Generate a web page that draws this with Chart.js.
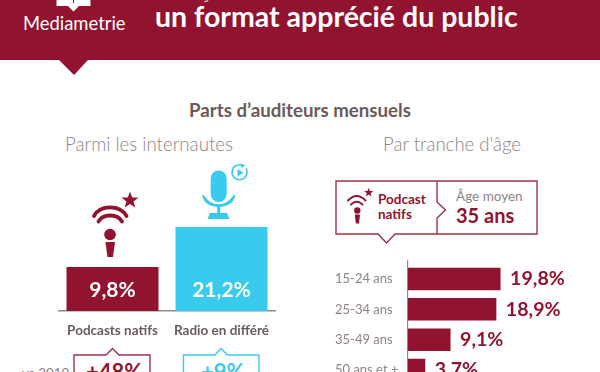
<!DOCTYPE html>
<html lang="fr">
<head>
<meta charset="utf-8">
<title>Parts d'auditeurs mensuels</title>
<script src="https://cdn.jsdelivr.net/npm/chart.js@4/dist/chart.umd.min.js"></script>
<style>
    html, body { margin: 0; padding: 0; background: #fff; }
    body { position: relative; width: 600px; height: 372px; overflow: hidden; font-family: Lato, "Open Sans", sans-serif; }
    #header { position: absolute; left: 0; top: 0; width: 600px; height: 60px; background: #91132f; }
    #art { position: absolute; left: 0; top: 0; }
    canvas { position: absolute; }
    .t { position: absolute; white-space: nowrap; line-height: 1; }
    .b { font-weight: 700; }
</style>
</head>
<body>
<div id="header"></div>
<svg id="art" width="600" height="372" viewBox="0 0 600 372">
    <polygon points="59,60 88,60 74,75" fill="#91132f"/>
    <!-- logo, cut off by the top of the picture -->
    <path d="M56.5 0H90.5V6H79L73.5 11.5L68 6H56.5Z" fill="#fff"/>
    <path d="M73.5 0V3" stroke="#91132f" stroke-width="1"/>
    <!-- descender of the title line above, nearly all outside the picture -->
    <path d="M204.5 1.5Q207 1.8 208 0" fill="none" stroke="#fff" stroke-width="1.4" opacity="0.7"/>

    <!-- podcast icon -->
    <g fill="none" stroke="#91132f" stroke-linecap="round">
        <path d="M94 216C100 204.5 120 204.5 126.5 216" stroke-width="3.8"/>
        <path d="M98.5 221.5C103 213.5 117.5 213.5 122 221.5" stroke-width="3.8"/>
    </g>
    <circle cx="110" cy="234.5" r="5.8" fill="#91132f"/>
    <polygon points="105.5,242 115,242 113,257 107.5,257" fill="#91132f"/>
    <polygon id="star" fill="#91132f" points="130,191.5 132.2,197.4 138.5,197.6 133.5,201.5 135.3,207.6 130,204.1 124.7,207.6 126.5,201.5 121.5,197.6 127.8,197.4"/>

    <!-- mic icon -->
    <rect x="210.7" y="170.5" width="16" height="31.5" rx="8" fill="#38cbee"/>
    <path d="M203 195.5C205 210 232 210 234.5 195.5C230 201 226 205 218.7 205C211 205 207 201 203 195.5Z" fill="#38cbee" stroke="#38cbee" stroke-width="1.5" stroke-linejoin="round"/>
    <rect x="217.2" y="206" width="3" height="8" fill="#38cbee"/>
    <polygon points="210,213 227,213 229.5,219 207.5,219" fill="#38cbee"/>
    <path d="M243 165.6A7.5 7.5 0 1 0 246 168.5" fill="none" stroke="#38cbee" stroke-width="1.5"/>
    <polygon points="240.5,163.5 245.5,165.5 241.5,168" fill="#38cbee"/>
    <polygon points="237.5,169 237.5,176.5 243.5,172.7" fill="#38cbee"/>

    <!-- age callout -->
    <path d="M336 181H537V234H395L386.5 243L378 234H336Z" fill="#fff" stroke="#a0304a" stroke-width="1.4"/>
    <path d="M437 181V202L445.5 210L437 218V234" fill="none" stroke="#a0304a" stroke-width="1.4"/>
    <g fill="none" stroke="#91132f" stroke-linecap="round" stroke-width="1.9">
        <path d="M348 200.5Q356.7 191.5 365.5 200.5"/>
        <path d="M351 204.5Q356.7 199 362.5 204.5"/>
    </g>
    <circle cx="357.3" cy="210.5" r="3.2" fill="#91132f"/>
    <polygon points="354.8,214.5 360,214.5 359,223.5 355.8,223.5" fill="#91132f"/>
    <polygon fill="#91132f" points="368.7,187.8 369.9,191 373.2,191.1 370.6,193.2 371.5,196.4 368.7,194.6 365.9,196.4 366.8,193.2 364.2,191.1 367.5,191"/>

    <!-- evolution boxes, cut off by the bottom of the picture -->
    <path d="M74 380V355H106L112.5 348.5L119 355H150V380" fill="none" stroke="#a0304a" stroke-width="1.4"/>
    <path d="M183.5 380V355H215L221 348.5L227.5 355H259V380" fill="none" stroke="#38cbee" stroke-width="1.4"/>

    <!-- axis of the age bars -->
    <line x1="407.6" y1="260" x2="407.6" y2="372" stroke="#8f8a8a" stroke-width="1.2"/>
</svg>

<div class="t" style="left:23px;top:14px;font-size:18.4px;color:#fff;">Mediametrie</div>
<div class="t b" style="left:155px;top:2px;font-size:28.5px;color:#fff;">un format apprécié du public</div>
<div class="t b" style="left:189px;top:101px;font-size:18.7px;color:#6b5a5c;">Parts d’auditeurs mensuels</div>
<div class="t" style="left:65px;top:135px;font-size:18.7px;font-weight:300;color:#8e8486;">Parmi les internautes</div>
<div class="t" style="left:383px;top:135px;font-size:18.6px;font-weight:300;color:#8e8486;">Par tranche d'âge</div>
<div class="t b" style="left:378px;top:193px;font-size:13.5px;color:#91132f;">Podcast</div>
<div class="t b" style="left:378px;top:208px;font-size:13.5px;color:#91132f;">natifs</div>
<div class="t" style="left:456px;top:190px;font-size:13.5px;color:#8e8486;">Âge moyen</div>
<div class="t b" style="left:456px;top:205px;font-size:20px;color:#91132f;">35 ans</div>
<div class="t" style="left:22px;top:367px;font-size:13.5px;color:#8e8486;">vs 2019</div>
<div class="t b" style="left:86px;top:361px;font-size:22px;color:#91132f;">+48%</div>
<div class="t b" style="left:201px;top:361px;font-size:22px;color:#38cbee;">+9%</div>

<canvas id="typeChart" width="218" height="150" style="left:57.5px;top:196px;"></canvas>
<canvas id="ageChart" width="260" height="137" style="left:335px;top:256px;"></canvas>

<script>
const typeLabels = ['Podcasts natifs', 'Radio en différé'];
const typeValues = [9.8, 21.2];
const typeColors = ['#91132f', '#38cbee'];

const ageLabels = ['15-24 ans', '25-34 ans', '35-49 ans', '50 ans et +'];
const ageValues = [19.8, 18.9, 9.1, 3.7];

const CRIMSON = '#91132f';
const FONT = 'Lato, "Open Sans", sans-serif';

function pct(value) {
    return value.toFixed(1).replace('.', ',') + '%';
}

// no datalabels plugin here, so the values are written after the bars
const typeValueLabels = {
    id: 'typeValueLabels',
    afterDatasetsDraw(chart) {
        const ctx = chart.ctx;
        ctx.save();
        ctx.font = '700 21px ' + FONT;
        ctx.fillStyle = '#fff';
        ctx.textAlign = 'center';
        ctx.textBaseline = 'middle';
        chart.getDatasetMeta(0).data.forEach((bar, i) => {
            ctx.fillText(pct(typeValues[i]), bar.x, chart.chartArea.bottom - 21);
        });
        ctx.restore();
    }
};

const ageValueLabels = {
    id: 'ageValueLabels',
    afterDatasetsDraw(chart) {
        const ctx = chart.ctx;
        ctx.save();
        ctx.font = '700 19.6px ' + FONT;
        ctx.fillStyle = CRIMSON;
        ctx.textAlign = 'left';
        ctx.textBaseline = 'middle';
        chart.getDatasetMeta(0).data.forEach((bar, i) => {
            ctx.fillText(pct(ageValues[i]), bar.x + 9.5, bar.y);
        });
        ctx.restore();
    }
};

// the two bars of the original are not drawn from zero, hence the base below it
const typeBase = -2.74;

new Chart(document.getElementById('typeChart'), {
    type: 'bar',
    data: {
        labels: typeLabels,
        datasets: [{
            data: typeValues,
            backgroundColor: typeColors,
            base: typeBase,
            barPercentage: 0.844,
            categoryPercentage: 1
        }]
    },
    options: {
        responsive: false,
        animation: false,
        layout: { padding: 0 },
        plugins: { legend: { display: false }, tooltip: { enabled: false } },
        scales: {
            x: {
                // tick padding would also squeeze the chart sideways, so the gap comes from the tick length
                grid: { display: false, drawTicks: true, tickLength: 12, tickColor: 'rgba(0,0,0,0)' },
                border: { color: '#8f8a8a', width: 1.4 },
                afterFit: scale => { scale.height = 35; },
                ticks: {
                    padding: 0,
                    maxRotation: 0,
                    color: '#6b5a5c',
                    font: { family: FONT, size: 13.5, weight: '700' }
                }
            },
            y: { display: false, min: typeBase, max: 30 }
        }
    },
    plugins: [typeValueLabels]
});

new Chart(document.getElementById('ageChart'), {
    type: 'bar',
    data: {
        labels: ageLabels,
        datasets: [{
            data: ageValues,
            backgroundColor: CRIMSON,
            barPercentage: 0.74,
            categoryPercentage: 1
        }]
    },
    options: {
        indexAxis: 'y',
        responsive: false,
        animation: false,
        plugins: { legend: { display: false }, tooltip: { enabled: false } },
        scales: {
            x: { display: false, min: 0, max: 40 },
            y: {
                grid: { display: false, drawTicks: false },
                border: { display: false },
                afterFit: scale => { scale.width = 73; },
                ticks: {
                    crossAlign: 'far',
                    padding: 0,
                    color: '#8e8486',
                    font: { family: FONT, size: 13 }
                }
            }
        }
    },
    plugins: [ageValueLabels]
});
</script>
</body>
</html>
